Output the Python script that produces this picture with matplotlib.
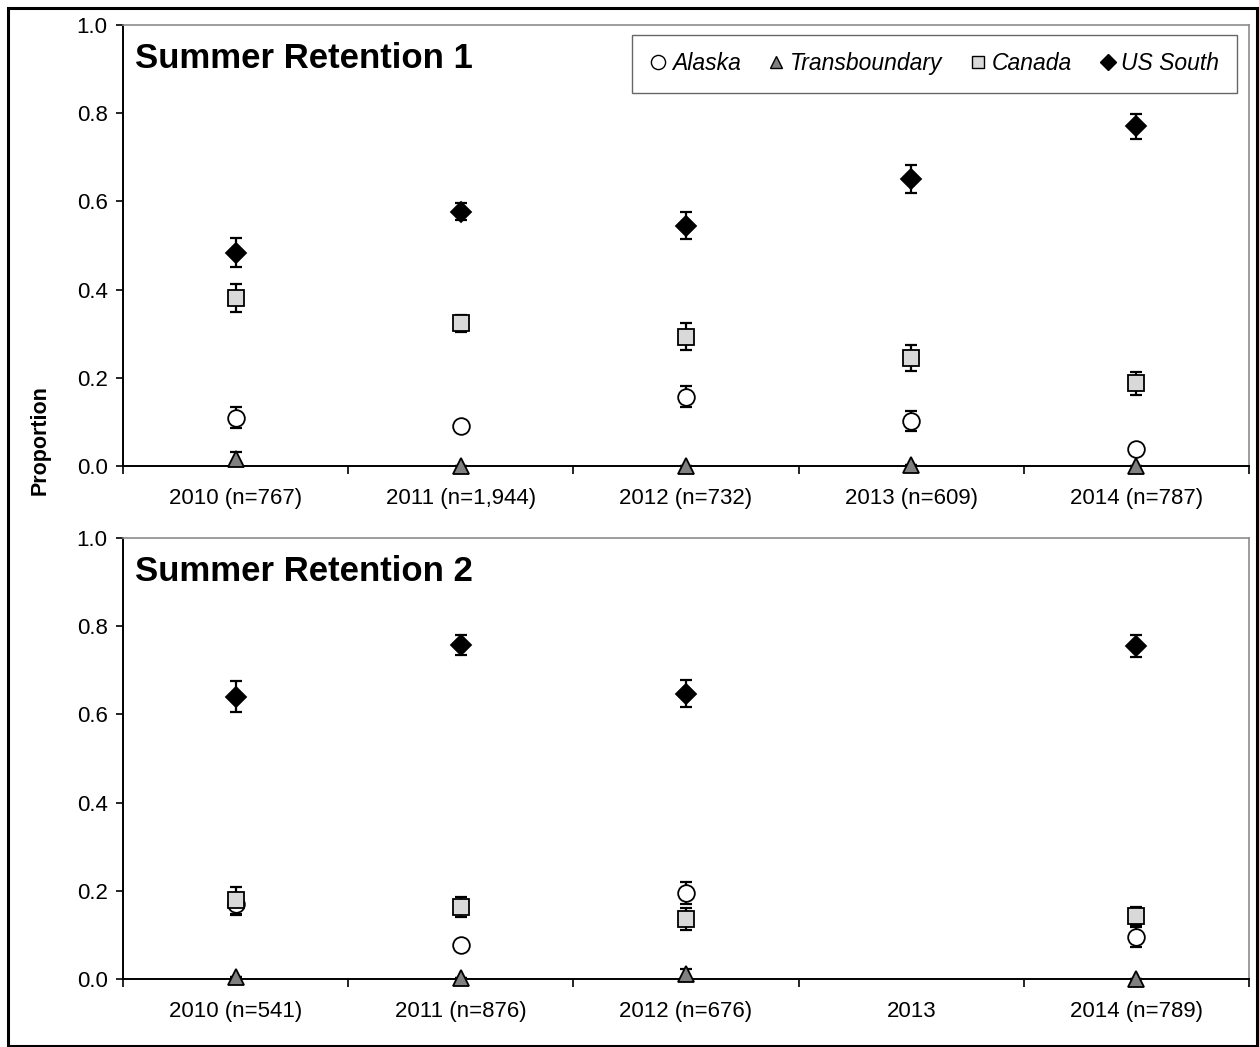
import numpy as np
import matplotlib.pyplot as plt
from matplotlib.lines import Line2D
from matplotlib.patches import Rectangle

plt.rcParams['font.family'] = ['Liberation Sans', 'DejaVu Sans']

stocks = ['Alaska', 'Transboundary', 'Canada', 'US South']

# Summer Retention 1
labels_1 = ['2010 (n=767)', '2011 (n=1,944)', '2012 (n=732)', '2013 (n=609)', '2014 (n=787)']
alaska_1 = [0.110, 0.091, 0.157, 0.102, 0.039]
alaska_err_1 = [0.023, 0.0, 0.024, 0.022, 0.0]
trans_1 = [0.017, 0.0, 0.001, 0.002, 0.0]
trans_err_1 = [0.015, 0.0, 0.0, 0.0, 0.0]
canada_1 = [0.381, 0.324, 0.293, 0.245, 0.188]
canada_err_1 = [0.032, 0.019, 0.031, 0.030, 0.026]
ussouth_1 = [0.484, 0.577, 0.545, 0.650, 0.770]
ussouth_err_1 = [0.033, 0.019, 0.030, 0.032, 0.028]

# Summer Retention 2 (no 2013 sample)
labels_2 = ['2010 (n=541)', '2011 (n=876)', '2012 (n=676)', '2013', '2014 (n=789)']
alaska_2 = [0.170, 0.077, 0.195, np.nan, 0.095]
alaska_err_2 = [0.026, 0.0, 0.025, np.nan, 0.022]
trans_2 = [0.005, 0.002, 0.012, np.nan, 0.0]
trans_err_2 = [0.0, 0.0, 0.010, np.nan, 0.0]
canada_2 = [0.178, 0.163, 0.136, np.nan, 0.143]
canada_err_2 = [0.031, 0.022, 0.025, np.nan, 0.021]
ussouth_2 = [0.640, 0.757, 0.647, np.nan, 0.755]
ussouth_err_2 = [0.035, 0.023, 0.030, np.nan, 0.025]

styles = {
    'Alaska': dict(marker='o', markersize=12, markerfacecolor='white'),
    'Transboundary': dict(marker='^', markersize=11, markerfacecolor='#808080'),
    'Canada': dict(marker='s', markersize=11, markerfacecolor='#d9d9d9'),
    'US South': dict(marker='D', markersize=10, markerfacecolor='black'),
}


def draw_panel(ax, title, labels, series):
    x = np.arange(len(labels)) + 0.5
    for name, (vals, errs) in zip(stocks, series):
        vals = np.array(vals, dtype=float)
        errs = np.array(errs, dtype=float)
        ax.errorbar(x, vals, yerr=errs, fmt='none', ecolor='black',
                    elinewidth=1.6, capsize=4, capthick=1.6, zorder=2, clip_on=False)
        ax.plot(x, vals, linestyle='none', markeredgecolor='black', markeredgewidth=1.3,
                zorder=3, clip_on=False, **styles[name])

    ax.set_xlim(0, len(labels))
    ax.set_ylim(0, 1.0)
    ax.set_yticks(np.arange(0, 1.01, 0.2))
    ax.set_yticklabels([f'{v:.1f}' for v in np.arange(0, 1.01, 0.2)])
    ax.set_xticks(x)
    ax.set_xticklabels(labels)
    ax.set_xticks(np.arange(len(labels) + 1), minor=True)
    ax.tick_params(axis='x', which='major', length=0, labelsize=16, pad=16)
    ax.tick_params(axis='x', which='minor', length=6, width=1.2, direction='out')
    ax.tick_params(axis='y', length=5, width=1.2, labelsize=16, pad=6)

    for side in ['left', 'bottom']:
        ax.spines[side].set_color('black')
        ax.spines[side].set_linewidth(1.4)
    for side in ['top', 'right']:
        ax.spines[side].set_color('#8c8c8c')
        ax.spines[side].set_linewidth(1.2)

    ax.text(0.011, 0.925, title, transform=ax.transAxes, fontsize=25,
            fontweight='bold', va='center', ha='left')


fig = plt.figure(figsize=(12.59, 10.47), dpi=100)
ax1 = fig.add_axes([0.0977, 0.5549, 0.8944, 0.4212])
ax2 = fig.add_axes([0.0977, 0.0650, 0.8944, 0.4212])

draw_panel(ax1, 'Summer Retention 1', labels_1,
           [(alaska_1, alaska_err_1), (trans_1, trans_err_1),
            (canada_1, canada_err_1), (ussouth_1, ussouth_err_1)])
draw_panel(ax2, 'Summer Retention 2', labels_2,
           [(alaska_2, alaska_err_2), (trans_2, trans_err_2),
            (canada_2, canada_err_2), (ussouth_2, ussouth_err_2)])

handles = []
for name in stocks:
    st = dict(styles[name])
    st['markersize'] = st['markersize'] * 0.85
    handles.append(Line2D([], [], linestyle='none', markeredgecolor='black',
                          markeredgewidth=1.0, label=name, **st))
leg = ax1.legend(handles=handles, loc='upper right', bbox_to_anchor=(0.989, 0.977),
                 borderaxespad=0, ncol=4, frameon=True, fancybox=False,
                 handlelength=0.8, handletextpad=0.2, columnspacing=1.15,
                 borderpad=0.75, prop={'style': 'italic', 'size': 16.5})
leg.get_frame().set_edgecolor('#404040')
leg.get_frame().set_linewidth(1.0)

fig.text(0.032, 0.58, 'Proportion', rotation=90, fontsize=15.5, fontweight='bold',
         ha='center', va='center')

# outer frame around the whole figure
fig.patches.append(Rectangle((0.0064, 0.001), 0.9920, 0.9913, transform=fig.transFigure,
                             fill=False, edgecolor='black', linewidth=2.2))

fig.savefig('out.png', dpi=100)
